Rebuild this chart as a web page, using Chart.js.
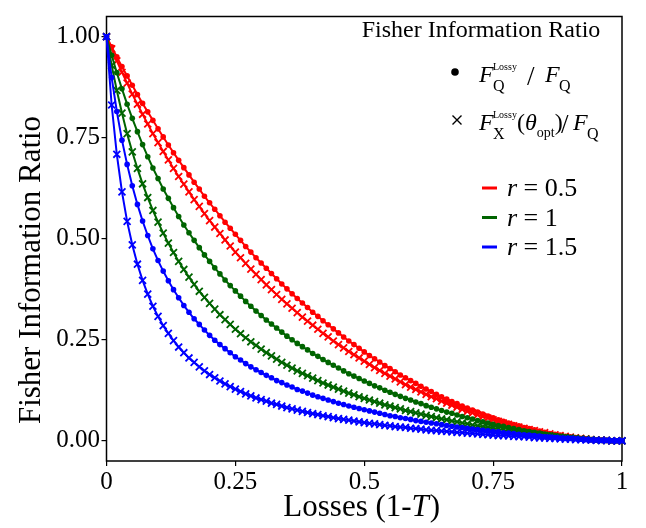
<!DOCTYPE html>
<html>
<head>
<meta charset="utf-8">
<title>Fisher Information Ratio</title>
<script src="https://cdn.jsdelivr.net/npm/chart.js@4.4.1/dist/chart.umd.min.js"></script>
<style>
  body { margin: 0; background: #fff; }
  canvas { display: block; }
</style>
</head>
<body>
<canvas id="fisherChart" width="646" height="528"></canvas>
<script>
// Losses (1-T) sampled every 0.01
const losses = [
  0, 0.01, 0.02, 0.03, 0.04, 0.05, 0.06, 0.07, 0.08, 0.09,
  0.10, 0.11, 0.12, 0.13, 0.14, 0.15, 0.16, 0.17, 0.18, 0.19,
  0.20, 0.21, 0.22, 0.23, 0.24, 0.25, 0.26, 0.27, 0.28, 0.29,
  0.30, 0.31, 0.32, 0.33, 0.34, 0.35, 0.36, 0.37, 0.38, 0.39,
  0.40, 0.41, 0.42, 0.43, 0.44, 0.45, 0.46, 0.47, 0.48, 0.49,
  0.50, 0.51, 0.52, 0.53, 0.54, 0.55, 0.56, 0.57, 0.58, 0.59,
  0.60, 0.61, 0.62, 0.63, 0.64, 0.65, 0.66, 0.67, 0.68, 0.69,
  0.70, 0.71, 0.72, 0.73, 0.74, 0.75, 0.76, 0.77, 0.78, 0.79,
  0.80, 0.81, 0.82, 0.83, 0.84, 0.85, 0.86, 0.87, 0.88, 0.89,
  0.90, 0.91, 0.92, 0.93, 0.94, 0.95, 0.96, 0.97, 0.98, 0.99,
  1.00
];

// F_Q^Lossy / F_Q  (dots)
const quantumR05 = [
  1, .975, .950, .926, .903, .880, .857, .835, .814, .793,
  .772, .752, .732, .713, .694, .676, .658, .640, .623, .605,
  .589, .573, .557, .541, .526, .511, .496, .481, .467, .453,
  .440, .427, .414, .401, .388, .376, .364, .352, .341, .330,
  .318, .308, .297, .287, .277, .267, .257, .247, .238, .229,
  .220, .211, .203, .195, .186, .179, .171, .163, .156, .149,
  .142, .135, .128, .122, .115, .109, .103, .097, .092, .086,
  .081, .076, .071, .066, .061, .057, .052, .048, .044, .040,
  .037, .033, .030, .027, .024, .021, .018, .016, .014, .011,
  .010, .008, .006, .005, .003, .002, .002, .001, 0, 0,
  0
];
const quantumR1 = [
  1, .954, .911, .871, .833, .798, .765, .733, .703, .675,
  .649, .623, .600, .577, .555, .534, .515, .496, .478, .460,
  .444, .428, .413, .398, .384, .371, .358, .345, .333, .321,
  .310, .299, .289, .279, .269, .259, .250, .241, .233, .225,
  .216, .209, .201, .194, .187, .180, .173, .166, .160, .154,
  .148, .142, .136, .131, .125, .120, .115, .110, .105, .101,
  .096, .092, .087, .083, .079, .075, .071, .068, .064, .060,
  .057, .054, .050, .047, .044, .041, .038, .036, .033, .030,
  .028, .025, .023, .021, .019, .017, .015, .013, .011, .010,
  .008, .007, .005, .004, .003, .002, .001, .001, 0, 0,
  0
];
const quantumR15 = [
  1, .899, .815, .744, .684, .631, .585, .544, .508, .475,
  .446, .420, .396, .374, .354, .335, .318, .302, .288, .274,
  .261, .249, .238, .228, .218, .208, .200, .191, .183, .176,
  .169, .162, .156, .149, .144, .138, .133, .127, .123, .118,
  .113, .109, .105, .101, .097, .093, .090, .086, .083, .080,
  .077, .074, .071, .068, .065, .062, .060, .057, .055, .053,
  .050, .048, .046, .044, .042, .040, .038, .036, .034, .033,
  .031, .029, .028, .026, .025, .023, .022, .020, .019, .018,
  .016, .015, .014, .013, .012, .010, .009, .008, .007, .006,
  .006, .005, .004, .003, .002, .002, .001, .001, 0, 0,
  0
];

// F_X^Lossy(theta_opt) / F_Q  (crosses)
const homodyneR05 = [
  1, .970, .940, .912, .885, .858, .833, .808, .784, .760,
  .738, .716, .695, .674, .654, .635, .616, .597, .580, .562,
  .545, .529, .513, .497, .482, .467, .453, .439, .425, .412,
  .399, .386, .374, .362, .350, .339, .328, .317, .306, .296,
  .286, .276, .266, .257, .247, .238, .230, .221, .213, .205,
  .197, .189, .181, .174, .167, .160, .153, .146, .139, .133,
  .127, .121, .115, .109, .104, .098, .093, .088, .083, .078,
  .073, .069, .064, .060, .056, .052, .048, .044, .041, .037,
  .034, .031, .028, .025, .022, .020, .017, .015, .013, .011,
  .009, .007, .006, .005, .003, .002, .002, .001, 0, 0,
  0
];
const homodyneR1 = [
  1, .929, .867, .811, .760, .715, .674, .636, .602, .570,
  .541, .514, .489, .466, .444, .424, .405, .387, .370, .355,
  .340, .326, .312, .300, .288, .276, .265, .255, .245, .236,
  .227, .218, .210, .202, .194, .187, .180, .173, .167, .161,
  .155, .149, .143, .138, .133, .128, .123, .118, .114, .109,
  .105, .101, .097, .093, .089, .086, .082, .079, .075, .072,
  .069, .066, .063, .060, .057, .054, .052, .049, .047, .044,
  .042, .039, .037, .035, .033, .031, .029, .027, .025, .023,
  .021, .020, .018, .016, .015, .013, .012, .010, .009, .008,
  .007, .006, .005, .004, .003, .002, .001, .001, 0, 0,
  0
];
const homodyneR15 = [
  1, .831, .709, .616, .543, .485, .437, .397, .363, .333,
  .308, .285, .266, .248, .232, .218, .205, .194, .183, .173,
  .164, .156, .148, .141, .134, .128, .122, .116, .111, .106,
  .102, .098, .093, .090, .086, .082, .079, .076, .073, .070,
  .067, .065, .062, .060, .057, .055, .053, .051, .049, .047,
  .045, .043, .042, .040, .038, .037, .035, .034, .033, .031,
  .030, .029, .027, .026, .025, .024, .023, .022, .021, .020,
  .019, .018, .017, .016, .015, .014, .013, .013, .012, .011,
  .010, .010, .009, .008, .007, .007, .006, .006, .005, .004,
  .004, .003, .003, .002, .002, .001, .001, .001, 0, 0,
  0
];

const squeezings = ['0.5', '1', '1.5'];
const squeezeColors = ['#ff0000', '#006400', '#0000ff'];

const xTicks = [0, 0.25, 0.5, 0.75, 1];
const xTickLabels = ['0', '0.25', '0.5', '0.75', '1'];
const yTicks = [0, 0.25, 0.5, 0.75, 1];
const yTickLabels = ['0.00', '0.25', '0.50', '0.75', '1.00'];

const yTitle = 'Fisher Information Ratio';
const legendTitle = 'Fisher Information Ratio';

const serif = "'Liberation Serif', 'Times New Roman', serif";
const ctx = document.getElementById('fisherChart').getContext('2d');

function points(vals) {
  return losses.map((x, i) => ({ x: x, y: vals[i] }));
}

function makeSeries(label, vals, color, marker, order) {
  const cross = marker === 'crossRot';
  return {
    label: label,
    data: points(vals),
    borderColor: color,
    backgroundColor: color,
    borderWidth: 2,
    pointStyle: marker,
    pointRadius: cross ? 4.9 : 2.8,
    pointBorderWidth: cross ? 1.8 : 0,
    pointBackgroundColor: color,
    pointBorderColor: color,
    tension: 0,
    clip: false,
    order: order
  };
}

// write a piece of text, return the x where it ends
function put(c, text, x, y, size, italic) {
  c.font = (italic ? 'italic ' : '') + size + 'px ' + serif;
  c.fillText(text, x, y);
  return x + c.measureText(text).width;
}

const decorations = {
  id: 'decorations',
  beforeDatasetsDraw(chart) {
    const a = chart.chartArea;
    const c = chart.ctx;
    c.save();
    c.strokeStyle = '#000';
    c.lineWidth = 1.5;
    c.strokeRect(a.left, a.top, a.right - a.left, a.bottom - a.top);
    c.restore();
  },
  afterDraw(chart) {
    const c = chart.ctx;
    const a = chart.chartArea;
    c.save();
    c.fillStyle = '#000';
    c.strokeStyle = '#000';
    c.textBaseline = 'alphabetic';

    // y axis title
    c.save();
    c.translate(39.5, 270);
    c.rotate(-Math.PI / 2);
    c.textAlign = 'center';
    c.font = '31px ' + serif;
    c.fillText(yTitle, 0, 0);
    c.restore();

    // x axis title: Losses (1-T)
    c.textAlign = 'left';
    c.font = '31px ' + serif;
    const w1 = c.measureText('Losses (1-').width;
    const w3 = c.measureText(')').width;
    c.font = 'italic 31px ' + serif;
    const w2 = c.measureText('T').width;
    let tx = (a.left + a.right) / 2 - 3 - (w1 + w2 + w3) / 2;
    tx = put(c, 'Losses (1-', tx, 516, 31, false);
    tx = put(c, 'T', tx, 516, 31, true);
    put(c, ')', tx + 1, 516, 31, false);

    // legend title
    c.textAlign = 'center';
    c.font = '24px ' + serif;
    c.fillText(legendTitle, 481, 37);
    c.textAlign = 'left';

    // legend marker: dot
    c.beginPath();
    c.arc(455, 72, 3.8, 0, Math.PI * 2);
    c.fill();
    put(c, 'F', 479, 82, 24, true);
    put(c, 'Lossy', 493, 70, 10, false);
    put(c, 'Q', 493, 91, 16, false);
    put(c, '/', 527, 85, 27, false);
    put(c, 'F', 545, 82, 24, true);
    put(c, 'Q', 559, 91, 16, false);

    // legend marker: cross
    c.lineWidth = 1.4;
    c.beginPath();
    c.moveTo(452.5, 115.5); c.lineTo(461.5, 124.5);
    c.moveTo(452.5, 124.5); c.lineTo(461.5, 115.5);
    c.stroke();
    put(c, 'F', 479, 130, 24, true);
    put(c, 'Lossy', 493, 118, 10, false);
    put(c, 'X', 493, 139, 16, false);
    let px = put(c, '(', 517, 130, 24, false);
    px = put(c, 'θ', px, 130, 24, true);
    px = put(c, 'opt', px, 137, 14, false);
    put(c, ')', px, 130, 24, false);
    put(c, '/', 561, 133, 27, false);
    put(c, 'F', 573, 130, 24, true);
    put(c, 'Q', 587, 139, 16, false);

    // squeezing legend
    c.lineWidth = 3;
    squeezings.forEach((r, i) => {
      const ly = 188 + i * 29.5;
      c.strokeStyle = squeezeColors[i];
      c.beginPath();
      c.moveTo(482, ly);
      c.lineTo(497, ly);
      c.stroke();
      let rx = put(c, 'r', 507, ly + 8, 26, true);
      put(c, ' = ' + r, rx, ly + 8, 26, false);
    });

    c.restore();
  }
};

const fisherChart = new Chart(ctx, {
  type: 'line',
  data: {
    datasets: [
      makeSeries('FQ r=0.5', quantumR05, squeezeColors[0], 'circle', 6),
      makeSeries('FX r=0.5', homodyneR05, squeezeColors[0], 'crossRot', 5),
      makeSeries('FQ r=1', quantumR1, squeezeColors[1], 'circle', 4),
      makeSeries('FX r=1', homodyneR1, squeezeColors[1], 'crossRot', 3),
      makeSeries('FQ r=1.5', quantumR15, squeezeColors[2], 'circle', 2),
      makeSeries('FX r=1.5', homodyneR15, squeezeColors[2], 'crossRot', 1)
    ]
  },
  options: {
    responsive: false,
    animation: false,
    layout: { padding: { top: 2, right: 24, left: 0, bottom: 0 } },
    plugins: {
      legend: { display: false },
      tooltip: { enabled: false }
    },
    scales: {
      x: {
        type: 'linear',
        min: 0,
        max: 1,
        afterBuildTicks: s => { s.ticks = xTicks.map(v => ({ value: v })); },
        afterFit: s => { s.height = 67; },
        grid: { drawOnChartArea: false, drawTicks: true, tickLength: 5, color: '#000', lineWidth: 1.2 },
        border: { display: false },
        ticks: {
          callback: v => xTickLabels[xTicks.indexOf(v)],
          font: { family: serif, size: 25 },
          color: '#000',
          padding: 1,
          maxRotation: 0,
          autoSkip: false
        }
      },
      y: {
        type: 'linear',
        min: -0.05,
        max: 1.05,
        afterBuildTicks: s => { s.ticks = yTicks.map(v => ({ value: v })); },
        afterFit: s => { s.width = 106.5; },
        grid: { drawOnChartArea: false, drawTicks: true, tickLength: 5, color: '#000', lineWidth: 1.2 },
        border: { display: false },
        ticks: {
          callback: v => yTickLabels[yTicks.indexOf(v)],
          font: { family: serif, size: 25 },
          color: '#000',
          padding: 1.5,
          autoSkip: false
        }
      }
    }
  },
  plugins: [decorations]
});
</script>
</body>
</html>
